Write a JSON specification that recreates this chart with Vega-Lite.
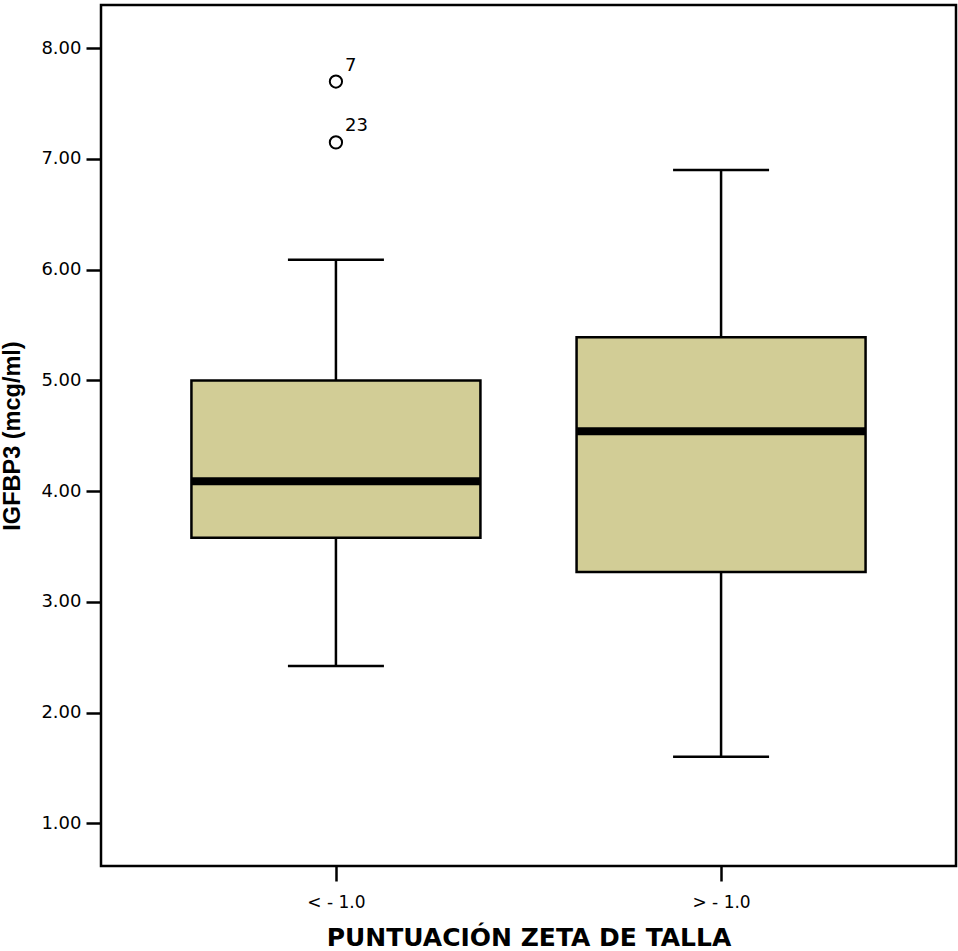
{
  "$schema": "https://vega.github.io/schema/vega-lite/v6.json",
  "width": 855,
  "height": 861,
  "autosize": {"type": "none"},
  "padding": {"left": 101, "top": 5, "right": 2, "bottom": 85},
  "background": "white",
  "config": {
    "font": "DejaVu Sans",
    "view": {"stroke": "black", "strokeWidth": 2.5}
  },
  "datasets": {
    "boxes": [
      {"grupo": "< - 1.0", "min": 2.42, "q1": 3.58, "mediana": 4.09, "q3": 5.0, "max": 6.09},
      {"grupo": "> - 1.0", "min": 1.6, "q1": 3.27, "mediana": 4.54, "q3": 5.39, "max": 6.9}
    ],
    "atipicos": [
      {"grupo": "< - 1.0", "valor": 7.7, "caso": "7"},
      {"grupo": "< - 1.0", "valor": 7.15, "caso": "23"}
    ]
  },
  "encoding": {
    "x": {
      "field": "grupo",
      "type": "nominal",
      "sort": ["< - 1.0", "> - 1.0"],
      "scale": {"type": "point", "padding": 0.61},
      "axis": {
        "title": "PUNTUACIÓN ZETA DE TALLA",
        "titleFont": "DejaVu Sans",
        "titleFontWeight": "bold",
        "titleColor": "black",
        "titleFontSize": 25,
        "titlePadding": 15,
        "grid": false,
        "domain": false,
        "ticks": true,
        "tickColor": "black",
        "tickWidth": 2.5,
        "tickSize": 15,
        "labelAngle": 0,
        "labelFont": "DejaVu Sans",
        "labelColor": "black",
        "labelFontSize": 17,
        "labelPadding": 13
      }
    }
  },
  "layer": [
    {
      "data": {"name": "boxes"},
      "mark": {"type": "rule", "color": "black", "strokeWidth": 2.5},
      "encoding": {
        "y": {
          "field": "min",
          "type": "quantitative",
          "scale": {"domain": [0.614, 8.391], "nice": false, "zero": false},
          "axis": {
            "title": "IGFBP3 (mcg/ml)",
            "titleFont": "Liberation Sans",
            "titleFontWeight": "bold",
            "titleColor": "black",
            "titleFontSize": 23.5,
            "titlePadding": 16,
            "grid": false,
            "domain": false,
            "ticks": true,
            "tickColor": "black",
            "tickWidth": 2.5,
            "tickSize": 15,
            "values": [1, 2, 3, 4, 5, 6, 7, 8],
            "format": ".2f",
            "labelFont": "DejaVu Sans",
            "labelColor": "black",
            "labelFontSize": 18,
            "labelPadding": 5
          }
        },
        "y2": {"field": "max"}
      }
    },
    {
      "data": {"name": "boxes"},
      "mark": {"type": "tick", "color": "black", "opacity": 1, "size": 96, "thickness": 2.5, "orient": "horizontal"},
      "encoding": {"y": {"field": "min", "type": "quantitative"}}
    },
    {
      "data": {"name": "boxes"},
      "mark": {"type": "tick", "color": "black", "opacity": 1, "size": 96, "thickness": 2.5, "orient": "horizontal"},
      "encoding": {"y": {"field": "max", "type": "quantitative"}}
    },
    {
      "data": {"name": "boxes"},
      "mark": {"type": "bar", "size": 289, "fill": "#d2cd96", "stroke": "black", "strokeWidth": 2.5, "opacity": 1},
      "encoding": {
        "y": {"field": "q1", "type": "quantitative"},
        "y2": {"field": "q3"}
      }
    },
    {
      "data": {"name": "boxes"},
      "mark": {"type": "tick", "color": "black", "opacity": 1, "size": 288, "thickness": 8, "orient": "horizontal"},
      "encoding": {"y": {"field": "mediana", "type": "quantitative"}}
    },
    {
      "data": {"name": "atipicos"},
      "mark": {"type": "point", "shape": "circle", "filled": false, "stroke": "black", "strokeWidth": 2, "size": 150, "opacity": 1},
      "encoding": {"y": {"field": "valor", "type": "quantitative"}}
    },
    {
      "data": {"name": "atipicos"},
      "mark": {"type": "text", "align": "left", "baseline": "alphabetic", "dx": 9, "dy": -11, "fontSize": 18, "font": "DejaVu Sans", "color": "black"},
      "encoding": {
        "y": {"field": "valor", "type": "quantitative"},
        "text": {"field": "caso"}
      }
    }
  ]
}
